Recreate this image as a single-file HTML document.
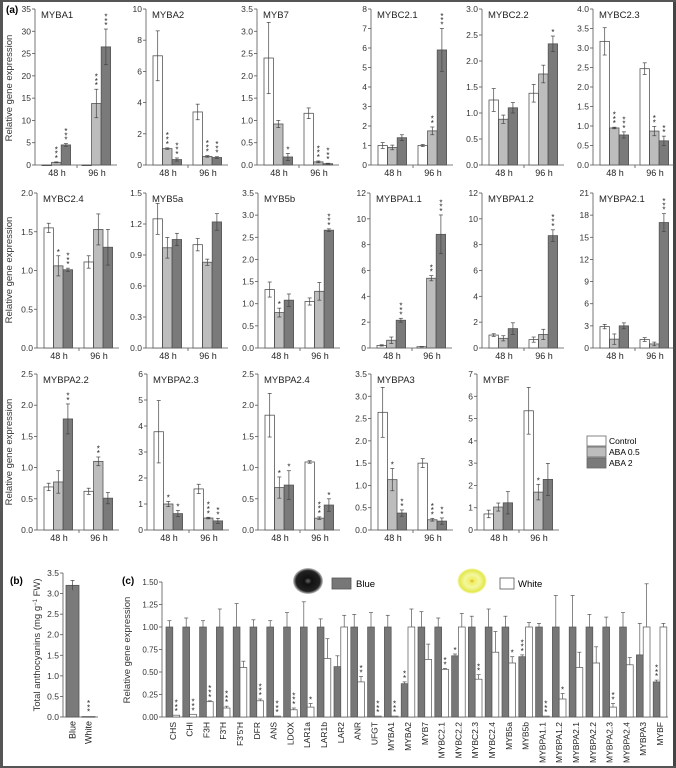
<!DOCTYPE html>
<html><head><meta charset="utf-8">
<style>
html,body{margin:0;padding:0;background:#fff;}
svg{display:block;font-family:"Liberation Sans",Arial,sans-serif;}
</style></head>
<body>
<svg id="fig" width="676" height="768" viewBox="0 0 676 768" xmlns="http://www.w3.org/2000/svg">
<rect x="0" y="0" width="676" height="768" fill="#fff"/>
<rect x="0" y="0" width="3" height="768" fill="#555"/>
<rect x="673" y="0" width="3" height="768" fill="#444"/>
<rect x="0" y="0" width="676" height="2" fill="#555"/>
<rect x="0" y="766" width="676" height="2" fill="#555"/>
<text x="6" y="13" font-size="10" font-weight="bold">(a)</text>
<text x="10" y="584" font-size="10" font-weight="bold">(b)</text>
<text x="122" y="584" font-size="10" font-weight="bold">(c)</text>
<g>
<rect x="587" y="436" width="19" height="10" fill="#fff" stroke="#666" stroke-width="0.8"/>
<rect x="587" y="447" width="19" height="10" fill="#bdbdbd" stroke="#666" stroke-width="0.8"/>
<rect x="587" y="458" width="19" height="10" fill="#7a7a7a" stroke="#666" stroke-width="0.8"/>
<text x="609" y="444" font-size="8.5">Control</text>
<text x="609" y="455" font-size="8.5">ABA 0.5</text>
<text x="609" y="466" font-size="8.5">ABA 2</text>
</g>
<defs>
<radialGradient id="gb" cx="50%" cy="50%" r="50%"><stop offset="0" stop-color="#666"/><stop offset="0.25" stop-color="#111"/><stop offset="0.8" stop-color="#222"/><stop offset="1" stop-color="#ccc"/></radialGradient>
<radialGradient id="gy" cx="50%" cy="50%" r="50%"><stop offset="0" stop-color="#e9a030"/><stop offset="0.15" stop-color="#eef060"/><stop offset="0.5" stop-color="#f4f7a0"/><stop offset="0.85" stop-color="#e3e84a"/><stop offset="1" stop-color="#fff"/></radialGradient>
</defs>
<g>
<ellipse cx="308" cy="581" rx="15" ry="13" fill="url(#gb)"/>
<rect x="332" y="578" width="19" height="11" fill="#777" stroke="#555" stroke-width="0.8"/>
<text x="356" y="587" font-size="9.5">Blue</text>
<ellipse cx="472" cy="581" rx="15" ry="13" fill="url(#gy)"/>
<rect x="500" y="578" width="14" height="11" fill="#fff" stroke="#555" stroke-width="0.8"/>
<text x="518" y="587" font-size="9.5">White</text>
</g>
<g id="charts"></g>
</svg>
<script>
// ---- panel (a) data ----
const panelNames = ["MYBA1","MYBA2","MYB7","MYBC2.1","MYBC2.2","MYBC2.3","MYBC2.4","MYB5a","MYB5b","MYBPA1.1","MYBPA1.2","MYBPA2.1","MYBPA2.2","MYBPA2.3","MYBPA2.4","MYBPA3","MYBF"];
const panelMax = [35,10,3.5,8,3,4,2,1.5,3.5,12,12,21,2.5,6,2.5,3.5,7];
const panelStep = [5,2,0.5,1,0.5,0.5,0.5,0.3,0.5,2,2,3,0.5,1,0.5,0.5,1];
const panelValues = [
 [0,0.6,4.5,0,13.8,26.5],[7,1.05,0.35,3.4,0.55,0.48],[2.4,0.92,0.18,1.16,0.07,0.03],
 [1,0.9,1.4,1,1.75,5.9],[1.25,0.88,1.1,1.38,1.75,2.33],[3.17,0.95,0.77,2.47,0.87,0.62],
 [1.55,1.06,1.01,1.11,1.53,1.3],[1.25,0.97,1.05,1,0.83,1.22],[1.32,0.8,1.08,1.05,1.28,2.66],
 [0.2,0.6,2.15,0.1,5.4,8.8],[1,0.75,1.5,0.65,1.05,8.7],[2.9,1.2,3,1.15,0.55,17],
 [0.69,0.77,1.78,0.62,1.1,0.51],[3.78,1,0.63,1.58,0.46,0.35],[1.84,0.68,0.72,1.09,0.19,0.4],
 [2.64,1.13,0.38,1.5,0.23,0.2],[0.72,1.03,1.22,5.35,1.7,2.27]];
const panelErrors = [
 [0,0.1,0.3,0,3.2,4],[1.6,0.05,0.1,0.5,0.05,0.05],[0.8,0.08,0.08,0.12,0.02,0.01],
 [0.15,0.12,0.15,0.05,0.2,1.1],[0.22,0.08,0.1,0.17,0.17,0.15],[0.35,0.02,0.08,0.15,0.12,0.12],
 [0.06,0.13,0.02,0.08,0.2,0.23],[0.15,0.1,0.06,0.06,0.03,0.08],[0.17,0.1,0.14,0.08,0.2,0.03],
 [0.05,0.25,0.15,0.02,0.2,1.5],[0.1,0.2,0.45,0.2,0.4,0.45],[0.3,0.7,0.4,0.25,0.25,1.2],
 [0.06,0.18,0.24,0.05,0.07,0.09],[1.2,0.1,0.12,0.18,0.03,0.1],[0.35,0.17,0.23,0.02,0.02,0.1],
 [0.56,0.25,0.07,0.1,0.03,0.07],[0.17,0.18,0.5,1.05,0.35,0.72]];
const panelSig = [
 [0,3,3,0,3,3],[0,3,3,0,3,3],[0,0,1,0,3,3],[0,0,0,0,2,3],[0,0,0,0,0,1],[0,3,3,0,2,2],
 [0,1,3,0,0,0],[0,0,0,0,0,0],[0,1,0,0,0,3],[0,0,3,0,2,3],[0,0,0,0,0,3],[0,0,0,0,0,3],
 [0,0,2,0,2,0],[0,1,1,0,3,2],[0,1,1,0,3,1],[0,1,2,0,3,2],[0,0,0,0,1,0]];
const groupLabels = ["48 h","96 h"];
// ---- panel (b) data ----
const bCategories = ["Blue","White"];
const bValues = [3.2,0.01];
const bErrors = [0.12,0];
const bSig = [0,3];
// ---- panel (c) data ----
const cGenes = ["CHS","CHI","F3H","F3'H","F3'5'H","DFR","ANS","LDOX","LAR1a","LAR1b","LAR2","ANR","UFGT","MYBA1","MYBA2","MYB7","MYBC2.1","MYBC2.2","MYBC2.3","MYBC2.4","MYB5a","MYB5b","MYBPA1.1","MYBPA1.2","MYBPA2.1","MYBPA2.2","MYBPA2.3","MYBPA2.4","MYBPA3","MYBF"];
const cBlue = [1,1,1,1,1,1,1,1,1,1,0.56,1,1,1,0.37,1,1,0.68,1,1,1,0.67,1,1,1,1,1,1,0.69,0.39];
const cWhite = [0.02,0.03,0.17,0.1,0.55,0.18,0.01,0.08,0.11,0.65,1,0.39,0.01,0.01,1,0.64,0.53,1,0.42,0.72,0.6,1,0.01,0.2,0.55,0.6,0.11,0.58,1,1];
const cBlueErr = [0.07,0.1,0.07,0.2,0.26,0.08,0.07,0.16,0.28,0.09,0.12,0.14,0.16,0.13,0.02,0.17,0.1,0.02,0.12,0.2,0.12,0.02,0.04,0.35,0.35,0.14,0.11,0.16,0.35,0.02];
const cWhiteErr = [0,0,0.01,0.02,0.07,0.02,0,0.02,0.04,0.22,0.13,0.06,0,0,0.2,0.17,0.01,0.15,0.05,0.23,0.07,0.05,0,0.06,0.17,0.18,0.04,0.08,0.48,0.04];
const cSig = [3,3,3,3,0,3,3,3,1,0,0,2,3,3,2,0,2,1,2,0,1,3,3,1,0,0,2,0,0,3];
const cSigOnBlue = [0,0,0,0,0,0,0,0,0,0,0,0,0,0,1,0,0,1,0,0,0,1,0,0,0,0,0,0,0,1];

const NS="http://www.w3.org/2000/svg";
const root=document.getElementById('charts');
function mk(tag,attrs,parent){const e=document.createElementNS(NS,tag);for(const k in attrs)e.setAttribute(k,attrs[k]);(parent||root).appendChild(e);return e;}
function fmt(v,step){const d=step<1?(String(step).split('.')[1].length>1?2:1):0;return v.toFixed(d);}
function stars(g,x,y,n){for(let i=0;i<n;i++){const t=mk('text',{x:x,y:y-i*4.3+3,'font-size':8,'text-anchor':'middle',fill:'#222'},g);t.textContent='*';}}
const FILLS=['#fff','#bdbdbd','#7a7a7a'];
const rowAxes=[[35,146,257,371,482,593],[37,146,258,370,482,593],[37,147,258,371,477]];
const rowTop=[9,193,374],rowBase=[165,348,530];
panelNames.forEach((name,p)=>{
  const row=p<6?0:(p<12?1:2), col=row===0?p:(row===1?p-6:p-12);
  const ax=rowAxes[row][col], top=rowTop[row], base=rowBase[row];
  const max=panelMax[p], step=panelStep[p];
  const ys=v=>base-(v/max)*(base-top);
  const g=mk('g',{});
  
  
  mk('line',{x1:ax,y1:top,x2:ax,y2:base,stroke:'#555','stroke-width':0.8},g);
  mk('line',{x1:ax,y1:base,x2:ax+82,y2:base,stroke:'#555','stroke-width':0.8},g);
  mk('line',{x1:ax+42,y1:base,x2:ax+42,y2:base+3,stroke:'#555','stroke-width':0.8},g);
  const nt=Math.round(max/step);
  for(let i=0;i<=nt;i++){const v=i*step,y=ys(v);
    mk('line',{x1:ax-3,y1:y,x2:ax,y2:y,stroke:'#555','stroke-width':0.8},g);
    const t=mk('text',{x:ax-4,y:y+3,'font-size':8.5,'text-anchor':'end',fill:'#333'},g);
    
    
    t.textContent=fmt(v,step);}
  const tt=mk('text',{x:ax+6,y:top+9,'font-size':9.5,fill:'#222'},g);
  
  
  tt.textContent=name;
  groupLabels.forEach((lab,gi)=>{const t=mk('text',{x:ax+22+gi*40,y:base+11,'font-size':9,'text-anchor':'middle',fill:'#222'},g);
    
    
    t.textContent=lab;});
  panelValues[p].forEach((v,i)=>{
    const gi=Math.floor(i/3),k=i%3; const x=ax+7+gi*40+k*9.6, w=9.4;
    const y=ys(v);
    const r=mk('rect',{x:x,y:Math.min(y,base),width:w,height:Math.max(0.6,base-y),fill:FILLS[k],stroke:'#555','stroke-width':0.8},g);
    
    
    const e=panelErrors[p][i];
    if(e>0){const cx=x+w/2,y1=ys(v+e),y2=ys(Math.max(0,v-e));
      mk('line',{x1:cx,y1:y1,x2:cx,y2:y2,stroke:'#444','stroke-width':0.7},g);
      mk('line',{x1:cx-2,y1:y1,x2:cx+2,y2:y1,stroke:'#444','stroke-width':0.7},g);
      mk('line',{x1:cx-2,y1:y2,x2:cx+2,y2:y2,stroke:'#444','stroke-width':0.7},g);}
    if(panelSig[p][i]) stars(g,x+w/2,ys(v+e)-4,panelSig[p][i]);
  });
});
[88,270,452].forEach((y)=>{
  const t=mk('text',{x:12,y:y,'font-size':9.5,'text-anchor':'middle',fill:'#333',transform:`rotate(-90 12 ${y})`});
  
  
  t.textContent='Relative gene expression';});

// panel b
(function(){
 const ax=63,top=573,base=717,max=3.5;const ys=v=>base-(v/max)*(base-top);
 const g=mk('g',{});
 
 
 mk('line',{x1:ax,y1:top,x2:ax,y2:base,stroke:'#555','stroke-width':0.8},g);
 mk('line',{x1:ax,y1:base,x2:ax+35,y2:base,stroke:'#555','stroke-width':0.8},g);
 for(let i=0;i<=7;i++){const v=i*0.5,y=ys(v);mk('line',{x1:ax-3,y1:y,x2:ax,y2:y,stroke:'#555','stroke-width':0.8},g);
   const t=mk('text',{x:ax-4,y:y+3,'font-size':8.5,'text-anchor':'end',fill:'#333'},g);t.textContent=v.toFixed(1);}
 bValues.forEach((v,i)=>{const x=ax+3+i*16,w=13,y=ys(v);
   const r=mk('rect',{x:x,y:y,width:w,height:Math.max(0.6,base-y),fill:i===0?'#7a7a7a':'#fff',stroke:'#555','stroke-width':0.8},g);
   
   
   const e=bErrors[i];if(e>0){const cx=x+w/2;mk('line',{x1:cx,y1:ys(v+e),x2:cx,y2:ys(v-e),stroke:'#444','stroke-width':0.7},g);mk('line',{x1:cx-2,y1:ys(v+e),x2:cx+2,y2:ys(v+e),stroke:'#444','stroke-width':0.7},g);}
   if(bSig[i])stars(g,x+w/2,ys(v+e)-5,bSig[i]);
   const lx=x+w/2+3,ly=base+4;const t=mk('text',{x:lx,y:ly,'font-size':9,'text-anchor':'end',fill:'#222',transform:`rotate(-90 ${lx} ${ly})`},g);t.textContent=bCategories[i];});
 const t=mk('text',{x:40,y:645,'font-size':9.5,'text-anchor':'middle',fill:'#333',transform:'rotate(-90 40 645)'},g);
 
 
 t.innerHTML='Total anthocyanins (mg g<tspan font-size="6" dy="-3">−1</tspan><tspan dy="3"> FW)</tspan>';
})();

// panel c
(function(){
 const ax=162,top=582,base=717,max=1.5;const ys=v=>base-(v/max)*(base-top);
 const g=mk('g',{});
 
 
 mk('line',{x1:ax,y1:top,x2:ax,y2:base,stroke:'#555','stroke-width':0.8},g);
 mk('line',{x1:ax,y1:base,x2:668,y2:base,stroke:'#555','stroke-width':0.8},g);
 for(let i=0;i<=6;i++){const v=i*0.25,y=ys(v);mk('line',{x1:ax-3,y1:y,x2:ax,y2:y,stroke:'#555','stroke-width':0.8},g);
   const t=mk('text',{x:ax-4,y:y+3,'font-size':8,'text-anchor':'end',fill:'#333'},g);t.textContent=v.toFixed(2);}
 const t0=mk('text',{x:130,y:650,'font-size':9.5,'text-anchor':'middle',fill:'#333',transform:'rotate(-90 130 650)'},g);
 
 
 t0.textContent='Relative gene expression';
 const sp=16.8;
 cGenes.forEach((gn,i)=>{const x0=166+i*sp,w=6.8;
   [[cBlue[i],cBlueErr[i],'#777'],[cWhite[i],cWhiteErr[i],'#fff']].forEach((d,k)=>{
     const x=x0+k*w,y=ys(d[0]);
     const r=mk('rect',{x:x,y:y,width:w,height:Math.max(0.6,base-y),fill:d[2],stroke:'#555','stroke-width':0.7},g);
     
     
     if(d[1]>0){const cx=x+w/2,y1=ys(d[0]+d[1]);mk('line',{x1:cx,y1:y1,x2:cx,y2:y,stroke:'#555','stroke-width':0.7},g);mk('line',{x1:cx-2,y1:y1,x2:cx+2,y2:y1,stroke:'#555','stroke-width':0.7},g);}
   });
   if(cSig[i]){const onB=cSigOnBlue[i];const v=onB?cBlue[i]+cBlueErr[i]:cWhite[i]+cWhiteErr[i];stars(g,x0+(onB?0:w)+w/2,ys(v)-4,cSig[i]);}
   const lx=x0+w+3,ly=base+5;const t=mk('text',{x:lx,y:ly,'font-size':8.5,'text-anchor':'end',fill:'#222',transform:`rotate(-90 ${lx} ${ly})`},g);
   
   
   t.textContent=gn;});
})();
</script>
</body></html>
